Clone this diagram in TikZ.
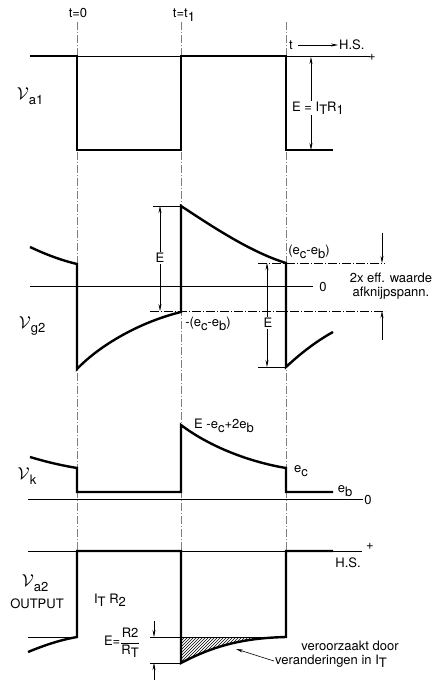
\documentclass[tikz,border=0pt]{standalone}
\usepackage{fontspec}
\setmainfont{TeX Gyre Heros}
\usetikzlibrary{arrows.meta,patterns}
\newcommand{\lo}[1]{\raisebox{-0.5ex}{#1}}
\newcommand{\scrV}{$\mathcal{V}$}
\begin{document}
\begin{tikzpicture}[x=1pt,y=-1pt,
  wave/.style={line width=2.4pt},
  axis/.style={line width=0.7pt},
  tline/.style={gray,line width=0.35pt,dash pattern=on 8pt off 2pt on 1pt off 2pt},
  dline/.style={line width=0.6pt,dash pattern=on 9pt off 2pt on 1pt off 2pt},
  dim/.style={line width=0.6pt,{Stealth[length=7pt,width=3pt]}-{Stealth[length=7pt,width=3pt]}},
  dimin/.style={line width=0.6pt,-{Stealth[length=7pt,width=3pt]}},
  lbl/.style={font=\fontsize{13}{15}\selectfont,inner sep=1pt},
  big/.style={font=\fontsize{17}{18}\selectfont,inner sep=1pt}]
\useasboundingbox (0,0) rectangle (446,684);

\foreach \x in {77,181,286} {
  \draw[tline] (\x,22) -- (\x,550);
}
\node[lbl] (t0) at (78,13) {t=0};
\node[lbl] (t1) at (184,15) {t=t\lo{1}};

% Va1
\draw[axis] (30,56) -- (370,56);
\node[lbl] (plus1) at (372,57) {+};
\node[lbl] (tt) at (291,45) {t};
\node[lbl,anchor=west] (hs1) at (338,45) {H.S.};
\draw[dimin] (tt.east)+(4,0) -- (hs1.west);
\draw[wave] (30,56) -- (77,56) -- (77,150) -- (181,150) -- (181,56) -- (286,56) -- (286,150) -- (333,150);
\draw[dim] (311,57) -- (311,150);
\node[lbl,fill=white] (eir) at (318,108) {E = I\lo{T}R\lo{1}};
\node[big] (va1) at (30,96) {\scrV\lo{\fontsize{13}{15}\selectfont a1}};

% Vg2
\draw[axis] (30,286) -- (313,286);
\node[lbl] (zero2) at (323,287) {0};
\draw[wave] (30,247) .. controls (45,254) and (60,260) .. (77,264) -- (77,369)
  .. controls (100,345) and (140,322) .. (181,312) -- (181,206)
  .. controls (210,225) and (250,252) .. (286,263) -- (286,367)
  .. controls (300,354) and (315,342) .. (333,332);
\draw[axis] (153,206) -- (181,206);
\draw[dline] (150,311) -- (385,311);
\draw[dline] (258,263) -- (385,263);
\draw[axis] (258,367) -- (286,367);
\draw[dim] (160,206) -- (160,311);
\node[lbl,fill=white] (e2a) at (160,258) {E};
\draw[dim] (267,263) -- (267,367);
\node[lbl,fill=white] (e2b) at (268,323) {E};
\draw[dimin] (382,233) -- (382,263);
\draw[dimin] (382,340) -- (382,311);
\node[lbl] (ecb1) at (309,252) {(e\lo{c}-e\lo{b})};
\node[lbl] (ecb2) at (208,324) {-(e\lo{c}-e\lo{b})};
\node[lbl] (eff1) at (391,278) {2x eff. waarde};
\node[lbl] (eff2) at (391,293) {afknijpspann.};
\node[big] (vg2) at (32,326) {\scrV\lo{\fontsize{13}{15}\selectfont g2}};

% Vk
\draw[axis] (28,499) -- (363,499);
\node[lbl] (zero3) at (368,500) {0};
\draw[wave] (30,457) .. controls (50,463) and (65,466) .. (77,468) -- (77,492) -- (181,492) -- (181,425)
  .. controls (210,447) and (250,462) .. (286,468) -- (286,492) -- (333,492);
\node[lbl] (peak) at (224,426) {E -e\lo{c}+2e\lo{b}};
\node[lbl] (ec) at (301,471) {e\lo{c}};
\node[lbl] (eb) at (345,491) {e\lo{b}};
\node[big] (vk) at (27,476) {\scrV\lo{\fontsize{13}{15}\selectfont k}};

% Va2
\draw[axis] (28,551) -- (362,551);
\node[lbl] (plus4) at (370,546) {+};
\node[lbl] (hs4) at (348,563) {H.S.};
\fill[pattern=north east lines] (181,637) -- (286,637) .. controls (245,638) and (215,645) .. (181,663) -- cycle;
\draw[axis] (181,637) -- (286,637);
\draw[axis] (28,637) -- (77,637);
\draw[wave] (28,652) .. controls (45,645) and (60,640) .. (77,637) -- (77,551) -- (181,551) -- (181,663)
  .. controls (215,645) and (245,638) .. (286,637) -- (286,551) -- (333,551);
\draw[axis] (150,663) -- (181,663);
\draw[axis] (150,637) -- (181,637);
\draw[dimin] (154,621) -- (154,637);
\draw[dimin] (154,680) -- (154,663);
\node[lbl] (efrac) at (122,643) {E=${\displaystyle\frac{\mbox{R2}}{\mbox{R\lo{T}}}}$};
\node[lbl] (itr) at (110,600) {I\lo{T} R\lo{2}};
\node[big] (va2) at (35,583) {\scrV\lo{\fontsize{13}{15}\selectfont a2}};
\node[lbl] (out) at (37,604) {OUTPUT};
\node[lbl] (cause1) at (350,646) {veroorzaakt door};
\node[lbl] (cause2) at (331,661) {veranderingen in I\lo{T}};
\draw[dimin] (cause2.west) -- (236,649);
\end{tikzpicture}
\end{document}
